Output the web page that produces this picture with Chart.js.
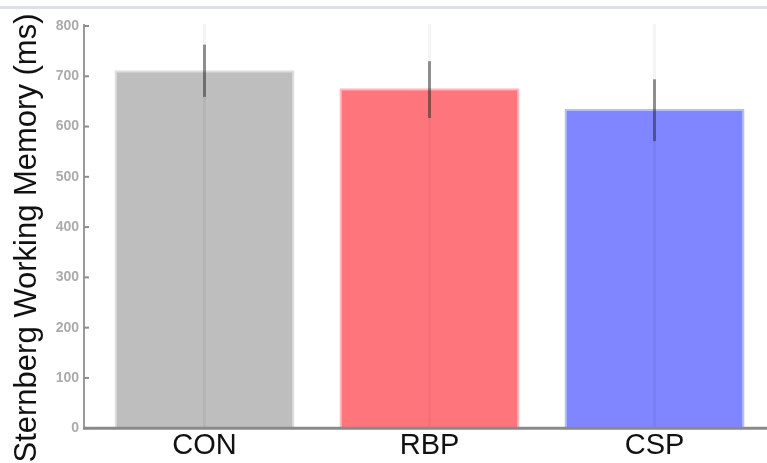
<!DOCTYPE html>
<html>
<head>
<meta charset="utf-8">
<script src="https://cdn.jsdelivr.net/npm/chart.js@4/dist/chart.umd.min.js"></script>
<style>
  html, body { margin: 0; padding: 0; background: #fff; }
  #wrap { position: relative; width: 767px; height: 463px; overflow: hidden; }
  #topline { position: absolute; left: 0; top: 6px; width: 767px; height: 3px; background: #dde1e5; }
  #chart { position: absolute; left: 0; top: 0; }
</style>
</head>
<body>
<div id="wrap">
  <div id="topline"></div>
  <canvas id="chart" width="767" height="463"></canvas>
</div>
<script>
'use strict';

/* 데이터 */
const GROUPS    = ['CON', 'RBP', 'CSP'];
const MEANS     = [712, 676, 635];
const ERR_LOW   = [659, 617, 571];
const ERR_HIGH  = [763, 730, 694];
const Y_TICKS   = [0, 100, 200, 300, 400, 500, 600, 700, 800];
const Y_TITLE   = 'Sternberg Working Memory (ms)';

const COLORS = {
  fill  : ['#bebebe', '#ff757c', '#7f86ff'],
  border: ['#dedede', '#ffb8bb', '#b8bcff'],
  axisY : '#9a9a9a',
  axisX : '#8a8a8a',
  tick  : '#ababab',
};

const FONT = "'Liberation Sans', Arial, sans-serif";
const AXIS_X = 84;   // y축 선 위치

/* ── 축선, 눈금, 오차막대, y축 제목 ── */
const axesAndErrors = {
  id: 'axesAndErrors',
  afterDatasetsDraw(chart) {
    const { ctx, scales: { x, y }, chartArea } = chart;
    ctx.save();

    // 가는 세로 안내선 + 오차막대
    GROUPS.forEach((g, i) => {
      const cx = x.getPixelForValue(i);
      ctx.strokeStyle = 'rgba(0,0,0,0.045)';
      ctx.lineWidth = 3;
      ctx.beginPath();
      ctx.moveTo(cx, y.getPixelForValue(800) - 2);
      ctx.lineTo(cx, y.getPixelForValue(0));
      ctx.stroke();

      ctx.strokeStyle = 'rgba(40,40,40,0.5)';
      ctx.lineWidth = 3;
      ctx.beginPath();
      ctx.moveTo(cx, y.getPixelForValue(ERR_HIGH[i]));
      ctx.lineTo(cx, y.getPixelForValue(ERR_LOW[i]));
      ctx.stroke();
    });

    // y축 선
    ctx.strokeStyle = COLORS.axisY;
    ctx.lineWidth = 2;
    ctx.beginPath();
    ctx.moveTo(AXIS_X, y.getPixelForValue(800) - 2);
    ctx.lineTo(AXIS_X, y.getPixelForValue(0));
    ctx.stroke();

    // 눈금
    ctx.strokeStyle = '#8c8c8c';
    ctx.lineWidth = 2;
    Y_TICKS.forEach(v => {
      const py = y.getPixelForValue(v);
      ctx.beginPath();
      ctx.moveTo(AXIS_X, py);
      ctx.lineTo(AXIS_X + 5, py);
      ctx.stroke();
    });

    // x축 선
    ctx.strokeStyle = COLORS.axisX;
    ctx.lineWidth = 3;
    ctx.beginPath();
    ctx.moveTo(AXIS_X - 1, y.getPixelForValue(0));
    ctx.lineTo(chartArea.right, y.getPixelForValue(0));
    ctx.stroke();

    // y축 제목
    ctx.translate(36, 238);
    ctx.rotate(-Math.PI / 2);
    ctx.fillStyle = '#111';
    ctx.font = `31px ${FONT}`;
    ctx.textAlign = 'center';
    ctx.textBaseline = 'alphabetic';
    ctx.fillText(Y_TITLE, 0, 0);

    ctx.restore();
  },
};

new Chart(document.getElementById('chart'), {
  type: 'bar',
  data: {
    labels: GROUPS,
    datasets: [{
      data: MEANS,
      backgroundColor: COLORS.fill,
      borderColor: COLORS.border,
      borderWidth: 2,
      borderSkipped: 'bottom',
      barPercentage: 0.8,
      categoryPercentage: 1.0,
    }],
  },
  options: {
    responsive: false,
    animation: false,
    layout: { padding: { top: 26, right: 0, bottom: 0, left: 0 } },
    plugins: { legend: { display: false }, tooltip: { enabled: false } },
    scales: {
      x: {
        grid: { display: false, drawTicks: false },
        border: { display: false },
        ticks: {
          color: '#111',
          padding: 0,
          font: { family: FONT, size: 29, lineHeight: 1.2 },
        },
      },
      y: {
        min: 0, max: 800,
        afterFit: s => { s.width = 92; },
        afterBuildTicks: s => { s.ticks = Y_TICKS.map(v => ({ value: v })); },
        grid: { display: false, drawTicks: false },
        border: { display: false },
        ticks: {
          color: COLORS.tick,
          padding: 13,
          font: { family: FONT, size: 14, weight: 'bold' },
        },
      },
    },
  },
  plugins: [axesAndErrors],
});
</script>
</body>
</html>
